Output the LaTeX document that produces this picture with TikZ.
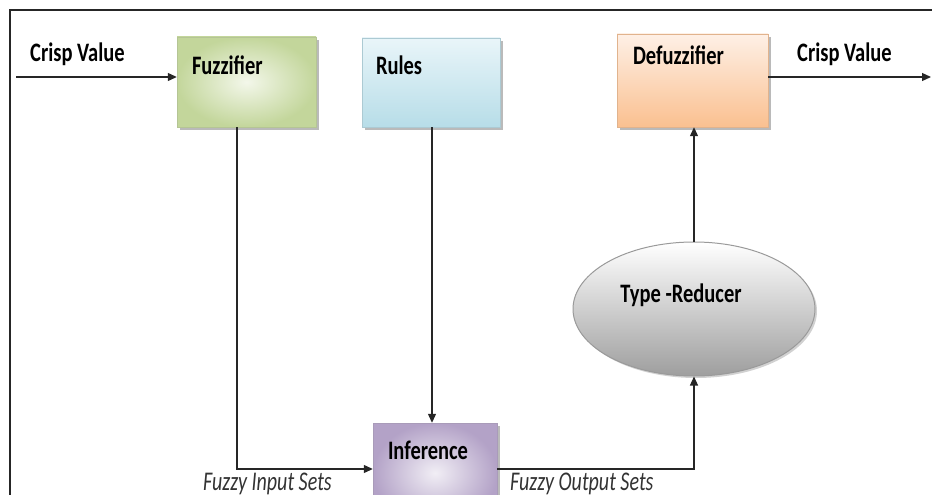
\documentclass[tikz,border=0pt]{standalone}
\usepackage{graphicx}
\usepackage{fontspec}
\setmainfont{Carlito}
\usetikzlibrary{shapes.geometric,shadows,arrows.meta}

\definecolor{fzedge}{HTML}{C3D69B}
\definecolor{fzlight}{HTML}{F3F7EA}
\definecolor{rledge}{HTML}{B7DDE8}
\definecolor{rllight}{HTML}{E9F5F9}
\definecolor{dfedge}{HTML}{FAC090}
\definecolor{dflight}{HTML}{FEF0E6}
\definecolor{inedge}{HTML}{B3A2C7}
\definecolor{inlight}{HTML}{F1EEF5}
\definecolor{trdark}{HTML}{9A9A9A}

% tall lettering used for every caption
\newcommand\tallbold[1]{\scalebox{1}[1.3]{\fontsize{20.5}{24}\selectfont\bfseries #1}}
\newcommand\tallital[1]{\scalebox{1}[1.35]{\fontsize{20}{24}\selectfont\itshape #1}}

\tikzset{
  block/.style={rectangle, inner sep=0pt, draw=#1!80!gray, line width=0.4pt,
    drop shadow={shadow xshift=2.5pt, shadow yshift=-3pt, opacity=0.45, fill=black!60}},
  boxtext/.style={anchor=base west, inner sep=0pt},
  flow/.style={line width=1.2pt, draw=black!85, -{Triangle[length=9pt,width=8pt]}},
  setlabel/.style={anchor=base west, inner sep=0pt, text=black!80},
  crisp/.style={anchor=base west, inner sep=0pt}
}

\begin{document}
\begin{tikzpicture}[x=1pt,y=-1pt]
\useasboundingbox (0,0) rectangle (932,495);

% outer frame (open to the right and bottom)
\draw[line width=2pt, black!85] (935,10) -- (9.5,10) -- (9.5,500);

% processing blocks
\node[block=fzedge, minimum width=139pt, minimum height=90pt,
      inner color=fzlight, outer color=fzedge,
      label={[boxtext, xshift=15pt, yshift=-38pt]north west:\tallbold{Fuzzifier}}]
      (fuzz) at (246.5,82) {};
\node[block=rledge, minimum width=138pt, minimum height=89pt,
      top color=rllight, bottom color=rledge,
      label={[boxtext, xshift=14pt, yshift=-37pt]north west:\tallbold{Rules}}]
      (rules) at (431,82.5) {};
\node[block=dfedge, minimum width=151pt, minimum height=93pt,
      top color=dflight, bottom color=dfedge,
      label={[boxtext, xshift=16pt, yshift=-31pt]north west:\tallbold{Defuzzifier}}]
      (defuzz) at (692.5,80.5) {};
\node[block=inedge, minimum width=124pt, minimum height=100pt,
      inner color=inlight, outer color=inedge,
      label={[boxtext, xshift=15pt, yshift=-37pt]north west:\tallbold{Inference}}]
      (infer) at (435,473) {};

% type reducer
\node[ellipse, draw=trdark, line width=1pt, minimum width=242pt, minimum height=134pt,
      inner sep=0pt, top color=white, bottom color=black!38,
      drop shadow={shadow xshift=2pt, shadow yshift=-2pt, opacity=0.3, fill=black!60},
      label={[anchor=base, inner sep=0pt, xshift=-13pt, yshift=14pt]center:\tallbold{Type -Reducer}}]
      (tr) at (694,309) {};

% crisp input and output
\coordinate (cin) at (16,77);
\coordinate (cout) at (931,77);
\draw[flow] (cin) -- (fuzz.west |- cin);
\node[crisp] (cinlab) at (30,62) {\tallbold{Crisp Value}};
\draw[flow] (defuzz.east |- cout) -- (cout);
\node[crisp] (coutlab) at (797,62) {\tallbold{Crisp Value}};

% fuzzy set flow
\coordinate (fin) at (237,469);
\draw[flow] (fuzz.south -| fin) -- (fin) -- (infer.west |- fin);
\coordinate (rin) at (432,300);
\draw[flow] (rules.south -| rin) -- (infer.north -| rin);
\coordinate (fout) at (694,469);
\draw[flow] (infer.east |- fout) -- (fout) -- (tr.south);
\draw[flow] (tr.north) -- (defuzz.south -| tr.north);

\node[setlabel] (inlab) at (203,490) {\tallital{Fuzzy Input Sets}};
\node[setlabel] (outlab) at (510,490) {\tallital{Fuzzy Output Sets}};
\end{tikzpicture}
\end{document}
